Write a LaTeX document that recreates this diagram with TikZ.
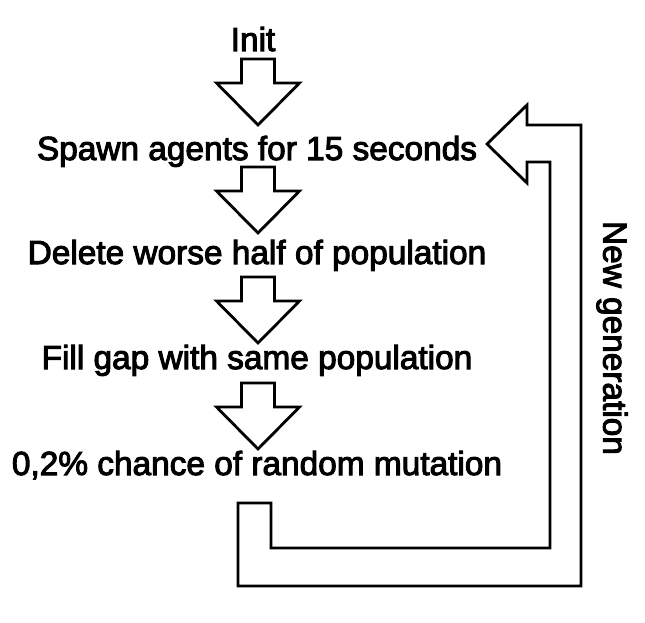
\documentclass[tikz,border=0pt]{standalone}
\usepackage{fontspec}
\setmainfont{Liberation Sans}
\newfontfamily\lblfont{Liberation Sans}[FakeBold=3]
\begin{document}
\begin{tikzpicture}[x=1pt,y=-1pt,
  lbl/.style={font=\lblfont\fontsize{33.4}{38}\selectfont, inner sep=0pt, anchor=base},
  fat/.style={draw=black, line width=2.8pt, fill=white, line join=miter},
  fatdown/.pic={\draw[fat] (-16.5,0) -- (16.5,0) -- (16.5,24) -- (41.5,24) -- (0,66) -- (-41.5,24) -- (-16.5,24) -- cycle;}]
\useasboundingbox (0,0) rectangle (645,623);
\node[lbl] (init) at (253,51) {Init};
\node[lbl] (spawn) at (257,160) {Spawn agents for 15 seconds};
\node[lbl] (delete) at (257,264) {Delete worse half of population};
\node[lbl] (fill) at (257,369) {Fill gap with same population};
\node[lbl] (mut) at (257,475) {0,2\% chance of random mutation};
\pic at (258,59) {fatdown};
\pic at (258,167) {fatdown};
\pic at (258,277) {fatdown};
\pic at (258,383) {fatdown};
\draw[fat] (238,503) -- (271,503) -- (271,548) -- (550,548) -- (550,162) -- (527,162) -- (527,183) -- (487,144) -- (527,105) -- (527,125) -- (581,125) -- (581,586) -- (238,586) -- cycle;
\node[font=\lblfont\fontsize{33.4}{38}\selectfont, inner sep=0pt, rotate=-90] (newgen) at (612,338) {New generation};
\end{tikzpicture}
\end{document}
